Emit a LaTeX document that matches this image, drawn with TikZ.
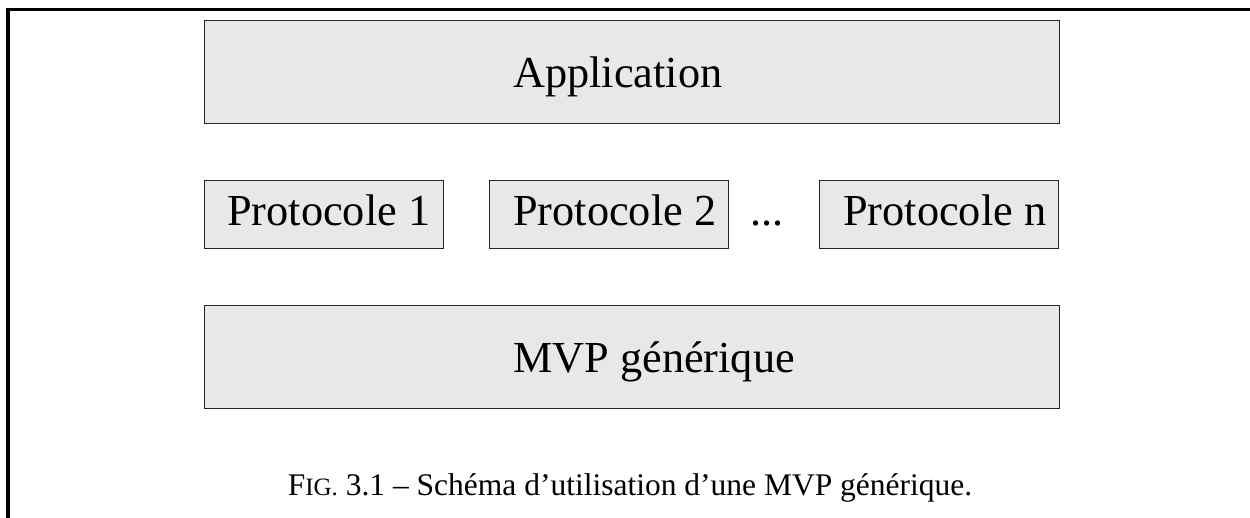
\documentclass[tikz,border=0pt]{standalone}
\usepackage{fontspec}
\usepackage{tikz}
\setmainfont{Liberation Serif}

\tikzset{
  layer/.style={draw=black!85, line width=0.9pt, fill=black!9, inner sep=0pt,
    preaction={draw=black!55, line width=0.9pt, transform canvas={shift={(0.9pt,-0.9pt)}}}},
  boxtext/.style={font=\rmfamily\fontsize{44.3}{50}\selectfont, inner sep=0pt},
  captiontext/.style={font=\rmfamily\fontsize{31.5}{36}\selectfont, inner sep=0pt}
}
\newcommand\figsc{F{\fontsize{25}{30}\selectfont IG.}}

\begin{document}
\begin{tikzpicture}[x=1pt, y=-1pt]
        \useasboundingbox (0,0) rectangle (1250,518);
        % page frame
        \draw [line width=3.5pt] (7.75,518) -- (7.75,9.5) -- (1250,9.5);
        % layers
        \node (app) [layer, minimum width=855pt, minimum height=103pt] at (631.5,71.5) {};
        \node (appT) [boxtext, anchor=base west] at (513,88) {Application};
        \node (p1) [layer, minimum width=239pt, minimum height=68pt] at (323.5,214) {};
        \node (p1T) [boxtext, anchor=base west] at (227,226) {Protocole 1};
        \node (p2) [layer, minimum width=239pt, minimum height=68pt] at (608.5,214) {};
        \node (p2T) [boxtext, anchor=base west] at (513,226) {Protocole 2};
        \node (dots) [boxtext, anchor=base] at (767,226) {...};
        \node (pn) [layer, minimum width=239pt, minimum height=68pt] at (938.5,214) {};
        \node (pnT) [boxtext, anchor=base west] at (843,226) {Protocole n};
        \node (mvp) [layer, minimum width=855pt, minimum height=103pt] at (631.5,356.5) {};
        \node (mvpT) [boxtext, anchor=base west] at (513,373) {MVP générique};
        % caption
        \node (cap) [captiontext, anchor=base] at (630,495) {\figsc~3.1 – Schéma d’utilisation d’une MVP générique.};
\end{tikzpicture}
\end{document}
